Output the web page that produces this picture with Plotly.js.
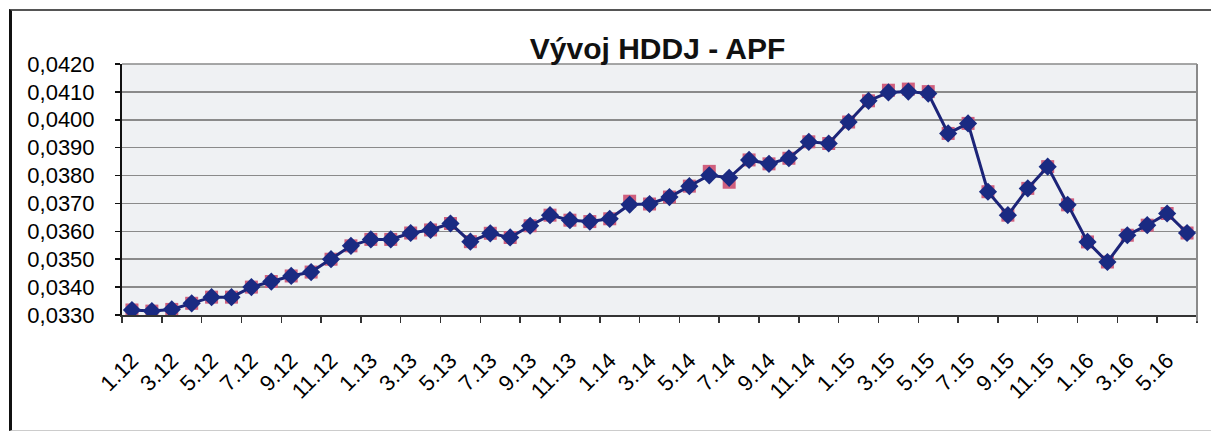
<!DOCTYPE html>
<html>
<head>
<meta charset="utf-8">
<script src="https://cdn.plot.ly/plotly-3.0.1.min.js"></script>
<style>
  html, body { margin: 0; padding: 0; background: #fff; }
  #wrap { position: relative; width: 1211px; height: 432px; overflow: hidden; }
  #chart { position: absolute; left: 0; top: 0; width: 1211px; height: 432px; }
  #frame { position: absolute; left: 9px; top: 9px; width: 1230px; height: 419px;
           border-left: 3px solid #111; border-top: 2px solid #555; border-bottom: 1px solid #ccc;
           pointer-events: none; }
</style>
</head>
<body>
<div id="wrap">
  <div id="chart"></div>
  <div id="frame"></div>
</div>
<script>
// Months (m.yy) from 1.12 to 6.16
const months = [
  "1.12","2.12","3.12","4.12","5.12","6.12","7.12","8.12","9.12","10.12","11.12","12.12",
  "1.13","2.13","3.13","4.13","5.13","6.13","7.13","8.13","9.13","10.13","11.13","12.13",
  "1.14","2.14","3.14","4.14","5.14","6.14","7.14","8.14","9.14","10.14","11.14","12.14",
  "1.15","2.15","3.15","4.15","5.15","6.15","7.15","8.15","9.15","10.15","11.15","12.15",
  "1.16","2.16","3.16","4.16","5.16","6.16"
];

// HDDJ - APF values (diamond series, with line)
const hddjApf = [
  0.03318, 0.03314, 0.03320, 0.03342, 0.03364, 0.03364, 0.03400, 0.03420, 0.03440, 0.03454, 0.03500, 0.03548,
  0.03571, 0.03571, 0.03594, 0.03605, 0.03628, 0.03563, 0.03593, 0.03578, 0.03620, 0.03658, 0.03640, 0.03635,
  0.03645, 0.03696, 0.03698, 0.03723, 0.03762, 0.03801, 0.03792, 0.03856, 0.03842, 0.03862, 0.03921, 0.03915,
  0.03992, 0.04068, 0.04098, 0.04101, 0.04094, 0.03951, 0.03987, 0.03742, 0.03658, 0.03754, 0.03832, 0.03695,
  0.03562, 0.03490, 0.03586, 0.03622, 0.03664, 0.03594
];

// Second (square marker) series, drawn behind
const hddjApf2 = [
  0.03318, 0.03314, 0.03320, 0.03342, 0.03364, 0.03364, 0.03400, 0.03420, 0.03440, 0.03454, 0.03500, 0.03548,
  0.03571, 0.03571, 0.03594, 0.03605, 0.03628, 0.03563, 0.03593, 0.03578, 0.03620, 0.03658, 0.03640, 0.03635,
  0.03645, 0.03708, 0.03698, 0.03723, 0.03762, 0.03815, 0.03776, 0.03856, 0.03842, 0.03862, 0.03921, 0.03915,
  0.03992, 0.04068, 0.04106, 0.04110, 0.04101, 0.03951, 0.03987, 0.03742, 0.03658, 0.03754, 0.03832, 0.03695,
  0.03562, 0.03490, 0.03586, 0.03622, 0.03664, 0.03594
];

const titleText = "Vývoj HDDJ - APF";

const FONT = "Liberation Sans, Arial, sans-serif";

const traces = [
  {
    x: months, y: hddjApf2, type: "scatter", mode: "markers",
    marker: { symbol: "square", size: 13, color: "#d0607e" },
    hoverinfo: "skip", showlegend: false
  },
  {
    x: months, y: hddjApf, type: "scatter", mode: "lines+markers",
    line: { color: "#1c2478", width: 3 },
    marker: { symbol: "diamond", size: 14, color: "#1a2a82" },
    showlegend: false
  }
];

const layout = {
  width: 1211, height: 432,
  margin: { l: 122, r: 14, t: 64, b: 117 },
  paper_bgcolor: "#ffffff",
  plot_bgcolor: "#eff1f3",
  separators: ", ",
  font: { family: FONT, color: "#000" },
  showlegend: false,
  title: {
    text: titleText,
    font: { family: FONT, size: 30, weight: "bold", color: "#111" },
    xref: "container", x: 0.543, xanchor: "center",
    yref: "container", y: 0.888, yanchor: "middle"
  },
  xaxis: {
    type: "category",
    categoryorder: "array", categoryarray: months,
    range: [-0.5, 53.5],
    tickmode: "linear", tick0: 0, dtick: 2,
    tickson: "boundaries",
    tickangle: -45,
    ticks: "outside", ticklen: 6, tickwidth: 1.5, tickcolor: "#333",
    ticklabelstandoff: 22,
    tickfont: { family: FONT, size: 22, color: "#000" },
    showgrid: false,
    showline: true, linecolor: "#333", linewidth: 2,
    zeroline: false, fixedrange: true
  },
  yaxis: {
    range: [0.0330, 0.0420],
    tickmode: "linear", tick0: 0.0330, dtick: 0.001,
    tickformat: ".4f",
    ticks: "outside", ticklen: 5, tickwidth: 1.5, tickcolor: "#111",
    ticklabelstandoff: 16,
    tickfont: { family: FONT, size: 22, color: "#000" },
    showgrid: true, gridcolor: "#8a8a8a", gridwidth: 1.5,
    showline: true, linecolor: "#111", linewidth: 2,
    zeroline: false, fixedrange: true
  },
  shapes: [
    { type: "line", xref: "paper", yref: "paper", x0: 1, x1: 1, y0: -0.025, y1: 1,
      line: { color: "#8a8a8a", width: 2 } },
    { type: "line", xref: "paper", yref: "paper", x0: 0, x1: 1, y0: 1, y1: 1,
      line: { color: "#8a8a8a", width: 1.5 } }
  ]
};

Plotly.newPlot("chart", traces, layout, { staticPlot: true, displayModeBar: false });
</script>
</body>
</html>
